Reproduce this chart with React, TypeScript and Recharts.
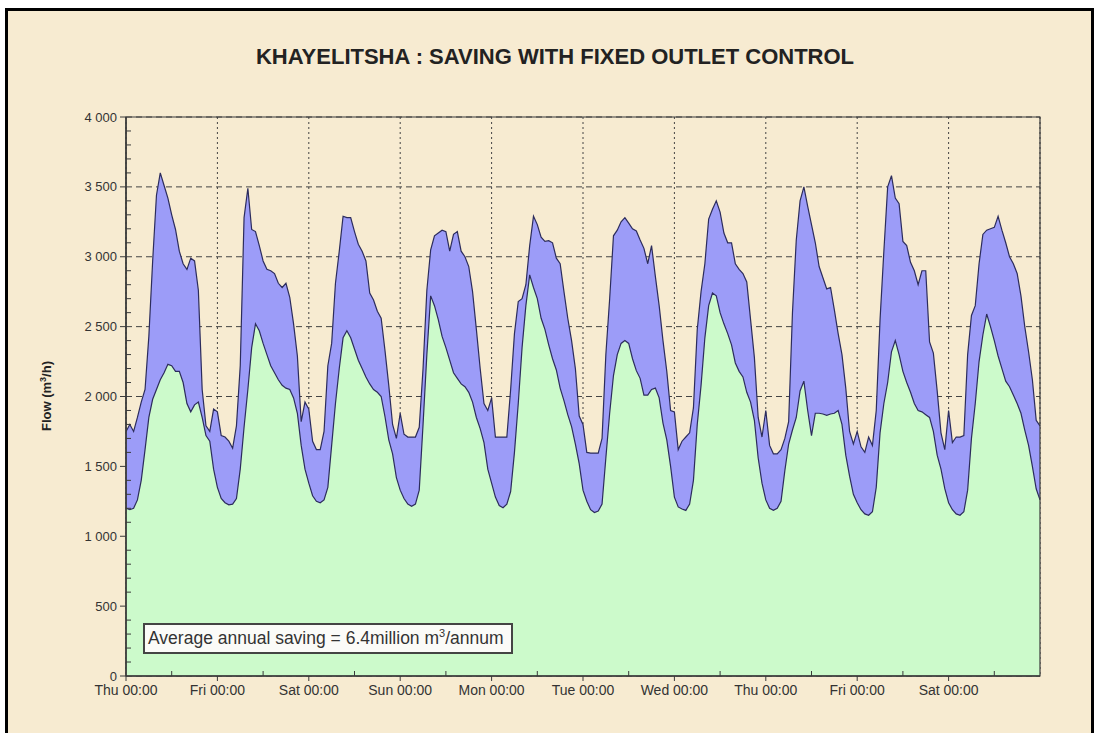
import {
  Area,
  CartesianGrid,
  ComposedChart,
  ReferenceArea,
  XAxis,
  YAxis,
} from "recharts";

// hourly flow readings (m³/h), Thu 00:00 .. Sun 00:00, one value per hour
const FLOW_WITHOUT_CONTROL = [
  // Thu
  1750, 1800, 1750, 1850, 1960, 2050, 2430, 2970, 3440, 3600, 3510, 3420,
  3300, 3195, 3040, 2950, 2910, 2990, 2970, 2760, 2050, 1790, 1750, 1910,
  // Fri
  1890, 1720, 1710, 1680, 1630, 1790, 2220, 3280, 3490, 3195, 3180, 3080,
  2970, 2910, 2900, 2880, 2810, 2780, 2810, 2710, 2520, 2290, 1820, 1960,
  // Sat
  1910, 1680, 1620, 1620, 1750, 2220, 2380, 2810, 3040, 3290, 3280, 3280,
  3180, 3090, 3040, 2970, 2740, 2690, 2610, 2560, 2330, 2080, 1800, 1700,
  // Sun
  1880, 1730, 1710, 1710, 1710, 1780, 2200, 2760, 3050, 3150, 3170, 3190,
  3180, 3040, 3160, 3180, 3040, 3000, 2930, 2750, 2480, 2200, 1950, 1900,
  // Mon
  1990, 1710, 1710, 1710, 1710, 2050, 2450, 2680, 2700, 2800, 3080, 3290,
  3230, 3140, 3110, 3115, 3100, 2990, 2950, 2750, 2560, 2400, 2200, 1860,
  // Tue
  1800, 1600, 1595, 1595, 1595, 1700, 2300, 2700, 3150, 3190, 3250, 3280,
  3240, 3200, 3185, 3120, 3060, 2950, 3080, 2860, 2650, 2400, 2180, 1900,
  // Wed
  1890, 1620, 1680, 1710, 1740, 1920, 2480, 2750, 2950, 3270, 3340, 3400,
  3320, 3170, 3100, 3100, 2950, 2910, 2880, 2820, 2550, 2280, 1850, 1710,
  // Thu
  1900, 1650, 1590, 1590, 1620, 1700, 1820, 2600, 3120, 3400, 3500, 3360,
  3230, 3100, 2930, 2850, 2770, 2780, 2620, 2450, 2300, 2060, 1750, 1660,
  // Fri
  1750, 1640, 1600, 1710, 1650, 1900, 2550, 3040, 3500, 3580, 3420, 3380,
  3110, 3080, 2960, 2900, 2800, 2900, 2900, 2390, 2310, 2040, 1740, 1620,
  // Sat
  1900, 1670, 1710, 1710, 1720, 2300, 2580, 2650, 2950, 3160, 3190, 3200,
  3210, 3290, 3190, 3100, 3000, 2950, 2880, 2720, 2500, 2320, 2120, 1830,
  // Sun 00:00
  1790,
];

const FLOW_WITH_CONTROL = [
  // Thu
  1200, 1190, 1200, 1260, 1400, 1620, 1850, 1980, 2050, 2120, 2170, 2230,
  2220, 2180, 2180, 2100, 1950, 1890, 1940, 1960, 1850, 1720, 1680, 1480,
  // Fri
  1350, 1270, 1240, 1225, 1230, 1270, 1480, 1780, 2050, 2350, 2520, 2470,
  2380, 2300, 2220, 2170, 2120, 2080, 2060, 2050, 1990, 1880, 1650, 1480,
  // Sat
  1380, 1290, 1250, 1240, 1260, 1350, 1650, 1950, 2200, 2420, 2470, 2420,
  2340, 2260, 2200, 2140, 2090, 2050, 2030, 2000, 1857, 1690, 1590, 1420,
  // Sun
  1330, 1270, 1230, 1215, 1230, 1330, 1800, 2300, 2720, 2650, 2550, 2430,
  2350, 2260, 2170, 2130, 2090, 2070, 2030, 1960, 1850, 1770, 1670, 1480,
  // Mon
  1380, 1280, 1220, 1204, 1230, 1320, 1600, 1950, 2350, 2650, 2870, 2780,
  2700, 2560, 2480, 2370, 2270, 2190, 2060, 1970, 1870, 1785, 1660, 1520,
  // Tue
  1330, 1250, 1190, 1170, 1180, 1230, 1560, 1880, 2150, 2300, 2380, 2400,
  2380, 2270, 2185, 2130, 2010, 2010, 2050, 2060, 1990, 1810, 1690, 1500,
  // Wed
  1280, 1210, 1195, 1185, 1230, 1400, 1800, 2080, 2420, 2650, 2740, 2720,
  2600, 2520, 2450, 2370, 2240, 2180, 2140, 2030, 1960, 1830, 1560, 1380,
  // Thu
  1260, 1200, 1185, 1200, 1250, 1470, 1660, 1760, 1850, 2040, 2110, 1900,
  1720, 1880, 1880, 1875, 1865, 1875, 1880, 1900, 1800, 1580, 1430, 1300,
  // Fri
  1240, 1190, 1160, 1150, 1175, 1350, 1740, 1950, 2100, 2320, 2400, 2300,
  2180, 2100, 2030, 1950, 1900, 1890, 1870, 1850, 1750, 1580, 1480, 1340,
  // Sat
  1240, 1190, 1160, 1150, 1175, 1330, 1700, 1950, 2250, 2440, 2590, 2500,
  2400, 2290, 2200, 2110, 2070, 2010, 1950, 1880, 1760, 1650, 1500, 1340,
  // Sun 00:00
  1260,
];

const DAY_LABELS = [
  "Thu 00:00",
  "Fri 00:00",
  "Sat 00:00",
  "Sun 00:00",
  "Mon 00:00",
  "Tue 00:00",
  "Wed 00:00",
  "Thu 00:00",
  "Fri 00:00",
  "Sat 00:00",
];

const Y_TICKS = [0, 500, 1000, 1500, 2000, 2500, 3000, 3500, 4000];
const Y_MINOR_TICKS = [
  100, 200, 300, 400, 600, 700, 800, 900, 1100, 1200, 1300, 1400, 1600, 1700,
  1800, 1900, 2100, 2200, 2300, 2400, 2600, 2700, 2800, 2900, 3100, 3200, 3300,
  3400, 3600, 3700, 3800, 3900,
];

const HOURS_PER_DAY = 24;
const TOTAL_HOURS = 240;

const chartData = FLOW_WITHOUT_CONTROL.map((before, hour) => ({
  hour,
  before,
  after: FLOW_WITH_CONTROL[hour],
}));

const dayTicks = DAY_LABELS.map((_, i) => i * HOURS_PER_DAY);
const halfDayTicks = DAY_LABELS.map((_, i) => i * HOURS_PER_DAY + 12);

const FONT = 'Arial, "Liberation Sans", sans-serif';
const PAPER = "#f7ebd1";
const AXIS = "#3a3a3a";

// the labelled axes sit between the minor-tick axes and the plot,
// so the minor marks are shifted back by their size
const Y_AXIS_WIDTH = 69;
const X_AXIS_HEIGHT = 29;

const formatThousands = (v: number) =>
  v >= 1000 ? `${Math.floor(v / 1000)} ${String(v % 1000).padStart(3, "0")}` : String(v);

// short inward ticks for the unlabelled minor marks
function MinorYTick(props: any) {
  const x = props.x + Y_AXIS_WIDTH;
  const { y } = props;
  return <line x1={x} x2={x + 5} y1={y} y2={y} stroke={AXIS} strokeWidth={1} />;
}

function MinorXTick(props: any) {
  const y = props.y - X_AXIS_HEIGHT;
  const { x } = props;
  return <line x1={x} x2={x} y1={y} y2={y - 5} stroke={AXIS} strokeWidth={1} />;
}

export default function App() {
  return (
    <div
      style={{
        position: "absolute",
        left: 0,
        top: 0,
        width: 1099,
        height: 733,
        background: "#fff",
        overflow: "hidden",
        fontFamily: FONT,
      }}
    >
      <div
        style={{
          position: "absolute",
          left: 5,
          top: 8,
          width: 1083,
          height: 740,
          border: "3px solid #000",
          background: PAPER,
        }}
      />

      <div
        style={{
          position: "absolute",
          left: 0,
          top: 45,
          width: 1110,
          textAlign: "center",
          fontSize: 22,
          fontWeight: "bold",
          color: "#222",
          lineHeight: "24px",
        }}
      >
        KHAYELITSHA : SAVING WITH FIXED OUTLET CONTROL
      </div>

      <div
        style={{
          position: "absolute",
          left: 46,
          top: 396,
          transform: "translate(-50%, -50%) rotate(-90deg)",
          fontSize: 13,
          fontWeight: "bold",
          color: "#222",
          whiteSpace: "nowrap",
        }}
      >
        Flow (m<sup style={{ fontSize: 9 }}>3</sup>/h)
      </div>

      <div style={{ position: "absolute", left: 0, top: 0 }}>
        <ComposedChart
          width={1099}
          height={733}
          data={chartData}
          margin={{ top: 117, right: 59, bottom: 27, left: 56 }}
        >
          <CartesianGrid
            vertical={false}
            stroke="#444"
            strokeDasharray="6 4"
          />
          <CartesianGrid
            horizontal={false}
            stroke="#444"
            strokeDasharray="2 3"
          />
          <XAxis
            dataKey="hour"
            type="number"
            domain={[0, TOTAL_HOURS]}
            ticks={dayTicks}
            tickFormatter={(v: number) => DAY_LABELS[v / HOURS_PER_DAY] ?? ""}
            height={X_AXIS_HEIGHT}
            tickSize={5}
            tickMargin={4}
            axisLine={{ stroke: AXIS, strokeWidth: 1.5 }}
            tickLine={{ stroke: AXIS }}
            tick={{ fill: "#333", fontSize: 14, fontFamily: FONT }}
          />
          <XAxis
            xAxisId="minor"
            dataKey="hour"
            type="number"
            domain={[0, TOTAL_HOURS]}
            ticks={halfDayTicks}
            interval={0}
            height={1}
            tickSize={0}
            tickMargin={0}
            tickLine={false}
            axisLine={false}
            tick={<MinorXTick />}
          />
          <YAxis
            type="number"
            domain={[0, 4000]}
            ticks={Y_TICKS}
            tickFormatter={formatThousands}
            width={Y_AXIS_WIDTH}
            tickSize={6}
            tickMargin={3}
            axisLine={{ stroke: AXIS, strokeWidth: 1.5 }}
            tickLine={{ stroke: AXIS }}
            tick={{ fill: "#333", fontSize: 13, fontFamily: FONT }}
          />
          <YAxis
            yAxisId="minor"
            type="number"
            domain={[0, 4000]}
            ticks={Y_MINOR_TICKS}
            interval={0}
            width={1}
            tickSize={0}
            tickMargin={0}
            tickLine={false}
            axisLine={false}
            tick={<MinorYTick />}
          />
          <Area
            type="linear"
            dataKey="before"
            stroke="#2c2c5c"
            strokeWidth={1.2}
            fill="#9c9cf8"
            fillOpacity={1}
            isAnimationActive={false}
          />
          <Area
            type="linear"
            dataKey="after"
            stroke="#2c2c5c"
            strokeWidth={1.2}
            fill="#ccfacb"
            fillOpacity={1}
            isAnimationActive={false}
          />
          {/* keeps the minor-tick axes bound to a series; draws nothing */}
          <Area
            xAxisId="minor"
            yAxisId="minor"
            type="linear"
            dataKey="after"
            stroke="none"
            fill="none"
            isAnimationActive={false}
          />
          <ReferenceArea
            x1={0}
            x2={TOTAL_HOURS}
            y1={0}
            y2={4000}
            fill="none"
            stroke={AXIS}
            strokeWidth={1.2}
          />
        </ComposedChart>
      </div>

      <div
        style={{
          position: "absolute",
          left: 143,
          top: 623,
          width: 363,
          height: 27,
          background: "#fbfbf8",
          border: "2px solid #444",
          fontSize: 17.5,
          lineHeight: "27px",
          paddingLeft: 3,
          color: "#333",
          whiteSpace: "nowrap",
          boxSizing: "content-box",
        }}
      >
        Average annual saving = 6.4million m
        <sup style={{ fontSize: 11, lineHeight: 0 }}>3</sup>/annum
      </div>
    </div>
  );
}
